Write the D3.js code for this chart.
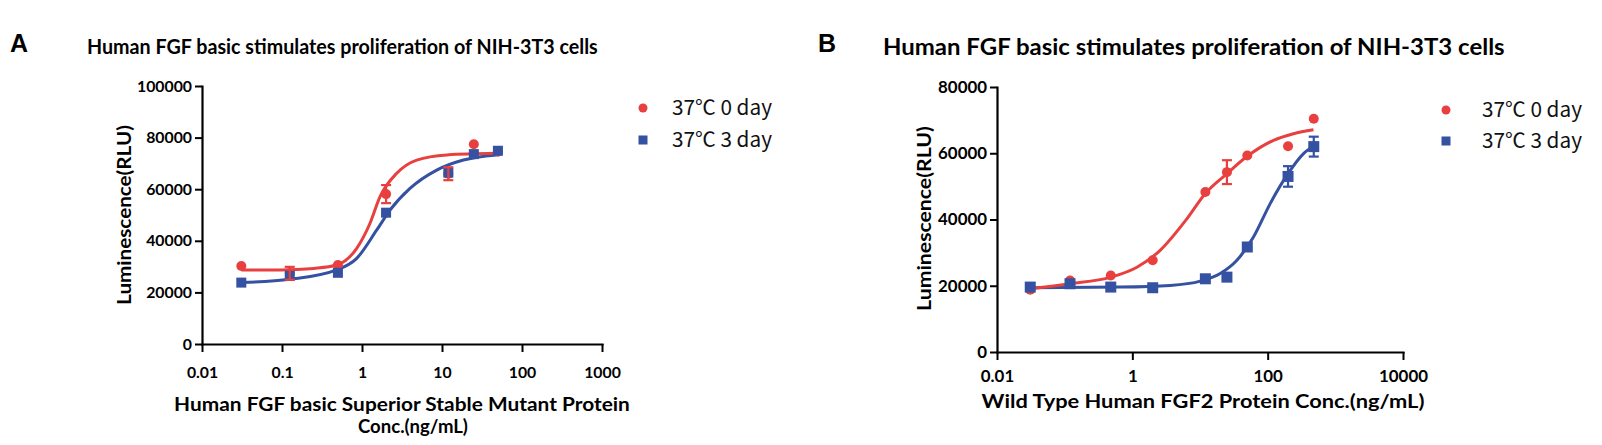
<!DOCTYPE html>
<html>
<head>
<meta charset="utf-8">
<script src="https://cdnjs.cloudflare.com/ajax/libs/d3/7.8.5/d3.min.js"></script>
<style>
body{margin:0;background:#fff;}
svg{display:block;}
</style>
</head>
<body>
<div id="chart"></div>
<script>
//panel A : superior stable mutant
let concA = [0.031, 0.125, 0.5, 2, 12, 25, 50];
let day0A = [30200, 27400, 30600, 58100, 66000, 77400, 74500];
let day0ErrA = [0, 2500, 0, 3500, 2500, 0, 0];
let day3A = [23800, 26400, 27600, 50900, 66400, 73600, 74900];
let day3ErrA = [0, 0, 0, 0, 0, 0, 0];

//panel A fitted curves, sampled along the drawn lines
let fit0ConcA = [0.031, 0.063, 0.153, 0.25, 0.483, 0.859, 1.26, 1.68, 2.72, 4.83, 11.5, 47.9];
let fit0A = [28700, 28700, 28900, 29300, 30600, 37100, 46800, 57100, 66200, 71300, 73300, 73900];
let fit3ConcA = [0.031, 0.126, 0.483, 0.859, 1.53, 2.24, 3.98, 8.59, 18.5, 47.9];
let fit3A = [23800, 25100, 28700, 33200, 44200, 51900, 60300, 67400, 71300, 73300];

//panel B : wild type FGF2
let concB = [0.031, 0.12, 0.48, 2, 12, 25, 50, 200, 480];
let day0B = [18800, 21600, 23100, 27700, 48300, 54300, 59300, 62100, 70400];
let day0ErrB = [0, 0, 0, 0, 0, 3600, 0, 0, 0];
let day3B = [19600, 20600, 19600, 19400, 22100, 22600, 31700, 53000, 62000];
let day3ErrB = [0, 0, 0, 0, 0, 0, 0, 3100, 3000];

let fit0ConcB = [0.031, 0.121, 0.483, 1.17, 2.58, 6.4, 11.9, 24.9, 49.3, 122, 240, 475];
let fit0B = [19100, 20600, 22600, 25600, 30700, 40200, 47800, 53800, 59000, 63900, 65900, 67100];
let fit3ConcB = [0.031, 0.66, 3.63, 10.1, 19.9, 35.1, 61.7, 109, 192, 339, 475];
let fit3B = [19400, 19600, 20100, 21400, 23700, 27700, 34700, 44800, 53300, 59900, 62100];

//axes
let xTicksA = [0.01, 0.1, 1, 10, 100, 1000];
let yTicksA = [0, 20000, 40000, 60000, 80000, 100000];
let xTicksB = [0.01, 1, 100, 10000];
let yTicksB = [0, 20000, 40000, 60000, 80000];

let legendLabels = ["37\u2103 0 day", "37\u2103 3 day"];
let titleText = "Human FGF basic stimulates proliferation of NIH-3T3 cells";

let red = "#e8403f";
let blue = "#3451a2";
let boldFont = "Lato, 'Open Sans', sans-serif";

let svg = d3.select("#chart")
	.append("svg")
	.attr("width", 1602)
	.attr("height", 445);

//scale font size so the text takes the wanted width
function fitWidth(sel, w){
	let len = sel.node().getComputedTextLength();
	let fs = parseFloat(sel.style("font-size"));
	sel.style("font-size", (fs * w / len) + "px");
	return fs * w / len;
}

//bold label of a given size, squeezed sideways to the wanted width
//(the original uses a narrow font we do not have)
function boldLabel(parent, txt, size, w, place, anchor){
	let t = parent.append("text")
		.attr("text-anchor", anchor)
		.style("font-family", boldFont)
		.style("font-weight", 700)
		.style("font-size", size + "px")
		.text(txt);
	let sx = w / t.node().getComputedTextLength();
	t.attr("transform", `${place} scale(${sx},1)`);
	return t;
}

function zip(xs, ys, errs){
	return xs.map((x, i) => ({x: x, y: ys[i], e: errs ? errs[i] : 0}));
}

function drawPanel(p){

	let g = svg.append("g");

	let xScale = d3.scaleLog()
		.domain(p.xDomain)
		.range([p.left, p.right]);

	let yScale = d3.scaleLinear()
		.domain([0, p.yMax])
		.range([p.bottom, p.top]);

	//letter + title
	g.append("text")
		.attr("x", p.letterX)
		.attr("y", p.letterY)
		.style("font-family", "'Liberation Sans', Arial, sans-serif")
		.style("font-weight", 700)
		.style("font-size", "25px")
		.text(p.letter);

	boldLabel(g, titleText, p.titleSize, p.titleW, `translate(${p.titleX},${p.titleY})`, "start");

	//y axis
	let yAxis = d3.axisLeft(yScale)
		.tickValues(p.yTicks)
		.tickFormat(d => String(d))
		.tickSizeInner(7)
		.tickSizeOuter(0)
		.tickPadding(3);

	let yG = g.append("g")
		.attr("transform", `translate(${p.left},0)`)
		.call(yAxis);

	//x axis
	let xAxis = d3.axisBottom(xScale)
		.tickValues(p.xTicks)
		.tickFormat(d => String(d))
		.tickSizeInner(8)
		.tickSizeOuter(0)
		.tickPadding(p.xPad);

	let xG = g.append("g")
		.attr("transform", `translate(0,${p.bottom})`)
		.call(xAxis);

	[yG, xG].forEach(a => {
		a.select(".domain").attr("stroke", "#000").attr("stroke-width", 2.2).attr("stroke-linecap", "square");
		a.selectAll(".tick line").attr("stroke", "#000").attr("stroke-width", 2);
		a.selectAll("text")
			.attr("fill", "#000")
			.style("font-family", boldFont)
			.style("font-weight", 700)
			.style("font-size", "15px");
	});

	//size tick labels from the widest y label
	let widest = yG.selectAll("text").filter(d => d === p.yMax);
	let fs = fitWidth(widest, p.tickW);
	yG.selectAll("text").style("font-size", fs + "px");
	xG.selectAll("text").style("font-size", fs + "px");

	//axis titles
	boldLabel(g, "Luminescence(RLU)", p.labSize, p.yLabW,
		`translate(${p.yLabX},${(p.top + p.bottom) / 2 + p.yLabShift}) rotate(-90)`, "middle");

	p.xLabels.forEach(l => {
		boldLabel(g, l.text, p.labSize, l.w, `translate(${l.x},${l.y})`, "middle");
	});

	//curves
	let line = d3.line()
		.x(d => xScale(d.x))
		.y(d => yScale(d.y))
		.curve(d3.curveMonotoneX);

	g.append("path")
		.datum(zip(p.fit3Conc, p.fit3))
		.attr("fill", "none")
		.attr("stroke", blue)
		.attr("stroke-width", 3)
		.attr("d", line);

	g.append("path")
		.datum(zip(p.fit0Conc, p.fit0))
		.attr("fill", "none")
		.attr("stroke", red)
		.attr("stroke-width", 3)
		.attr("d", line);

	let pts0 = zip(p.conc, p.day0, p.day0Err);
	let pts3 = zip(p.conc, p.day3, p.day3Err);

	g.selectAll(".c0")
		.data(pts0)
		.enter()
		.append("circle")
		.attr("class", "c0")
		.attr("cx", d => xScale(d.x))
		.attr("cy", d => yScale(d.y))
		.attr("r", p.r)
		.attr("fill", red);

	g.selectAll(".s3")
		.data(pts3)
		.enter()
		.append("rect")
		.attr("class", "s3")
		.attr("x", d => xScale(d.x) - p.sq / 2)
		.attr("y", d => yScale(d.y) - p.sq / 2)
		.attr("width", p.sq)
		.attr("height", p.sq)
		.attr("fill", blue);

	//error bars
	function errorBars(pts, color){
		let e = g.append("g")
			.attr("stroke", color)
			.attr("stroke-width", 2.2);
		pts.filter(d => d.e > 0).forEach(d => {
			let cx = xScale(d.x);
			let yt = yScale(d.y + d.e);
			let yb = yScale(d.y - d.e);
			e.append("line").attr("x1", cx).attr("x2", cx).attr("y1", yt).attr("y2", yb);
			e.append("line").attr("x1", cx - 5).attr("x2", cx + 5).attr("y1", yt).attr("y2", yt);
			e.append("line").attr("x1", cx - 5).attr("x2", cx + 5).attr("y1", yb).attr("y2", yb);
		});
	}
	errorBars(pts0, red);
	errorBars(pts3, blue);

	//legend
	let lg = g.append("g");
	lg.append("circle")
		.attr("cx", p.legX)
		.attr("cy", p.legY[0])
		.attr("r", 4.5)
		.attr("fill", red);
	lg.append("rect")
		.attr("x", p.legX - 4.5)
		.attr("y", p.legY[1] - 4.5)
		.attr("width", 9)
		.attr("height", 9)
		.attr("fill", blue);
	legendLabels.forEach((txt, i) => {
		let t = lg.append("text")
			.attr("x", p.legTextX)
			.attr("y", p.legY[i] + 7)
			.style("font-family", "'Noto Sans CJK SC', 'Noto Sans', sans-serif")
			.style("font-size", "16px")
			.attr("fill", "#111")
			.text(txt);
		fitWidth(t, 100);
	});
}

drawPanel({
	letter: "A", letterX: 10, letterY: 52,
	titleX: 87, titleY: 54, titleW: 511, titleSize: 20,
	left: 202, right: 602, top: 86, bottom: 344,
	xDomain: [0.01, 1000], yMax: 100000,
	xTicks: xTicksA, yTicks: yTicksA, xPad: 15, tickW: 55,
	yLabX: 131, yLabShift: 0, yLabW: 180, labSize: 19.5,
	xLabels: [
		{text: "Human FGF basic Superior Stable Mutant Protein", x: 402, y: 411, w: 456},
		{text: "Conc.(ng/mL)", x: 413, y: 433, w: 110}
	],
	conc: concA, day0: day0A, day0Err: day0ErrA, day3: day3A, day3Err: day3ErrA,
	fit0Conc: fit0ConcA, fit0: fit0A, fit3Conc: fit3ConcA, fit3: fit3A,
	r: 5, sq: 10,
	legX: 643, legY: [108, 140], legTextX: 672
});

drawPanel({
	letter: "B", letterX: 818, letterY: 52,
	titleX: 883, titleY: 55, titleW: 622, titleSize: 22,
	left: 997, right: 1403, top: 87, bottom: 352,
	xDomain: [0.01, 10000], yMax: 80000,
	xTicks: xTicksB, yTicks: yTicksB, xPad: 10, tickW: 49,
	yLabX: 931, yLabShift: -1, yLabW: 185, labSize: 19.5,
	xLabels: [
		{text: "Wild Type Human FGF2 Protein  Conc.(ng/mL)", x: 1203, y: 408, w: 443}
	],
	conc: concB, day0: day0B, day0Err: day0ErrB, day3: day3B, day3Err: day3ErrB,
	fit0Conc: fit0ConcB, fit0: fit0B, fit3Conc: fit3ConcB, fit3: fit3B,
	r: 5, sq: 11,
	legX: 1446, legY: [110, 141], legTextX: 1482
});
</script>
</body>
</html>
